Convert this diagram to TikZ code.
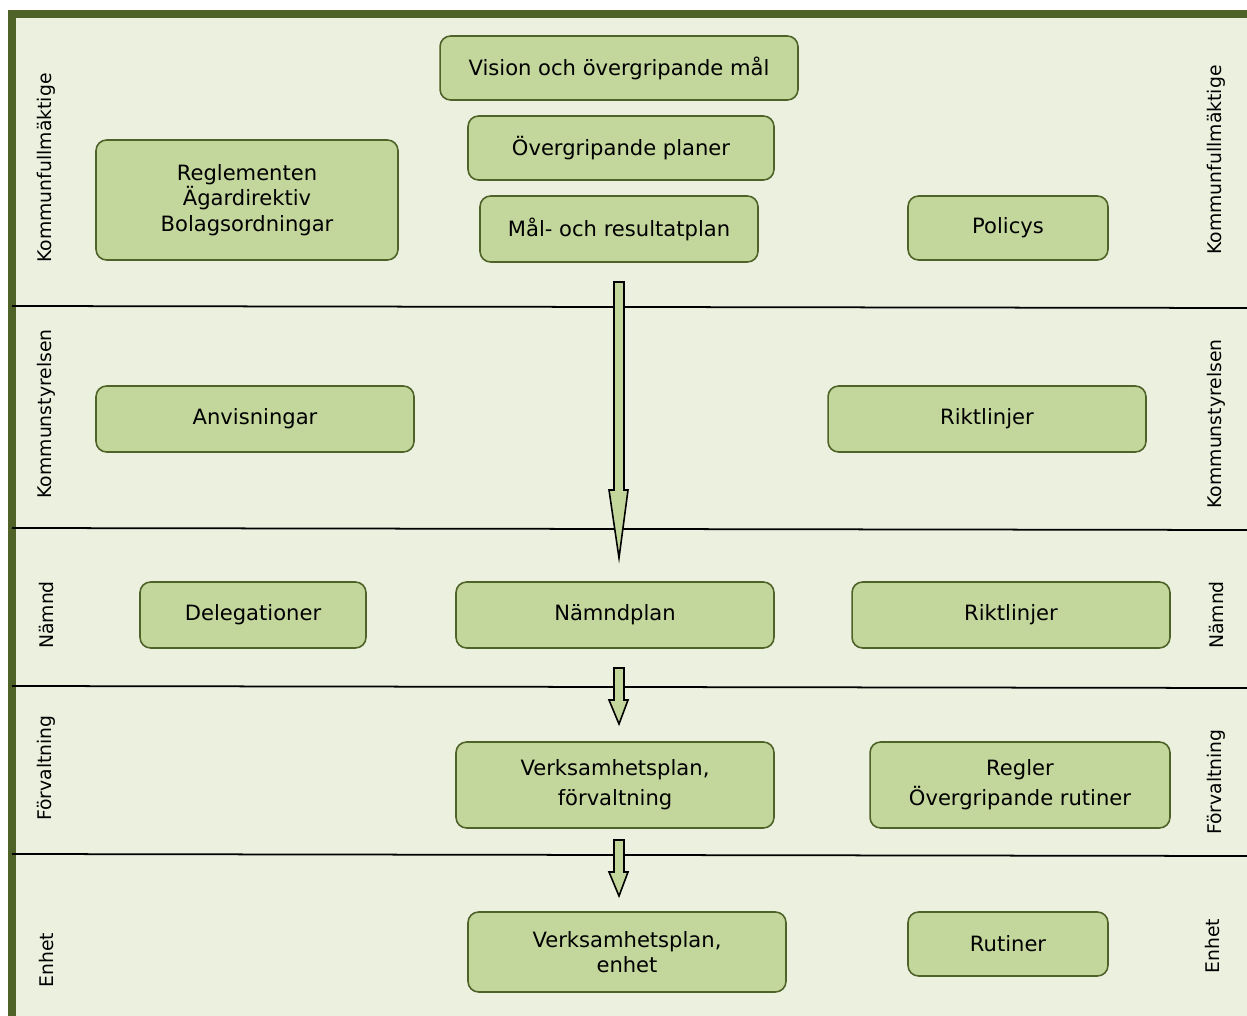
\documentclass[tikz,border=0pt]{standalone}
\usepackage{fontspec}
\setmainfont{DejaVu Sans}
\definecolor{framegreen}{HTML}{4F6228}
\definecolor{bandgreen}{HTML}{EBF1DE}
\definecolor{boxgreen}{HTML}{C3D69B}
\tikzset{
  box/.style={draw=framegreen, line width=0.9pt, fill=boxgreen, rounded corners=6pt,
    align=center, inner sep=0pt, font=\fontsize{12}{14.5}\selectfont},
  side/.style={rotate=90, font=\fontsize{10.7}{12}\selectfont},
  band/.style={line width=1pt},
  blockarrow/.style={draw, line width=0.9pt, fill=boxgreen, line join=miter}
}
\begin{document}
\begin{tikzpicture}[x=0.02cm,y=-0.02cm]
  \useasboundingbox (0,0) rectangle (1247,1016);
  \fill[framegreen] (8,10) rectangle (1247,1016);
  \fill[bandgreen] (16,18) rectangle (1247,1016);
  % band borders
  \draw[band] (12,306) -- (1247,308);
  \draw[band] (12,528) -- (1247,530);
  \draw[band] (12,686) -- (1247,688);
  \draw[band] (12,854) -- (1247,856);
  % side labels
  \node[side] (kfL) at (46,168) {Kommunfullmäktige};
  \node[side] (kfR) at (1216,160) {Kommunfullmäktige};
  \node[side] (ksL) at (46,414) {Kommunstyrelsen};
  \node[side] (ksR) at (1216,424) {Kommunstyrelsen};
  \node[side] (nL) at (46,615) {Nämnd};
  \node[side] (nR) at (1216,615) {Nämnd};
  \node[side] (fL) at (46,768) {Förvaltning};
  \node[side] (fR) at (1216,782) {Förvaltning};
  \node[side] (eL) at (46,960) {Enhet};
  \node[side] (eR) at (1212,946) {Enhet};
  % boxes
  \node[box, minimum width=7.16cm, minimum height=1.28cm] (vision) at (619,68) {Vision och övergripande mål};
  \node[box, minimum width=6.12cm, minimum height=1.28cm] (planer) at (621,148) {Övergripande planer};
  \node[box, minimum width=5.56cm, minimum height=1.32cm] (malres) at (619,229) {Mål- och resultatplan};
  \node[box, minimum width=6.04cm, minimum height=2.40cm] (regl) at (247,200) {Reglementen\\Ägardirektiv\\Bolagsordningar};
  \node[box, minimum width=4.00cm, minimum height=1.28cm] (policys) at (1008,228) {Policys};
  \node[box, minimum width=6.36cm, minimum height=1.32cm] (anvis) at (255,419) {Anvisningar};
  \node[box, minimum width=6.36cm, minimum height=1.32cm] (riktks) at (987,419) {Riktlinjer};
  \node[box, minimum width=4.52cm, minimum height=1.32cm] (deleg) at (253,615) {Delegationer};
  \node[box, minimum width=6.36cm, minimum height=1.32cm] (namndplan) at (615,615) {Nämndplan};
  \node[box, minimum width=6.36cm, minimum height=1.32cm] (riktn) at (1011,615) {Riktlinjer};
  \node[box, minimum width=6.36cm, minimum height=1.72cm] (vpforv) at (615,785) {Verksamhetsplan,\\[2.5pt]förvaltning};
  \node[box, minimum width=6.00cm, minimum height=1.72cm] (regler) at (1020,785) {Regler\\[2.5pt]Övergripande rutiner};
  \node[box, minimum width=6.36cm, minimum height=1.60cm] (vpenh) at (627,952) {Verksamhetsplan,\\enhet};
  \node[box, minimum width=4.00cm, minimum height=1.28cm] (rutiner) at (1008,944) {Rutiner};
  % arrows
  \draw[blockarrow] (614,282) -- (624,282) -- (624,490) -- (628,490) -- (619,558) -- (609,490) -- (614,490) -- cycle;
  \draw[blockarrow] (614,668) -- (624,668) -- (624,700) -- (628,700) -- (619,724) -- (609,700) -- (614,700) -- cycle;
  \draw[blockarrow] (614,840) -- (624,840) -- (624,872) -- (628,872) -- (619,896) -- (609,872) -- (614,872) -- cycle;
\end{tikzpicture}
\end{document}
